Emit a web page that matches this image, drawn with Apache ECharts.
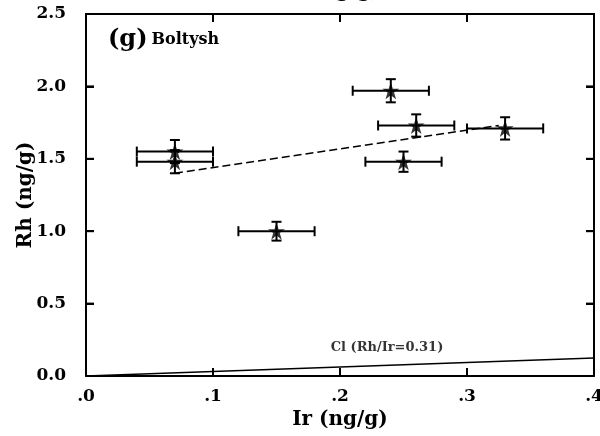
<!DOCTYPE html>
<html lang="en">
<head>
    <meta charset="utf-8">
    <title>Boltysh Rh vs Ir</title>
    <script src="https://cdn.jsdelivr.net/npm/echarts@6/dist/echarts.min.js"></script>
</head>
<body style="margin: 0">
<div id="container" style="height: 436px; width: 600px"></div>
<script type="text/javascript">
    // sample values
    var irVals = [0.07, 0.07, 0.15, 0.24, 0.26, 0.25, 0.33];
    var rhVals = [1.55, 1.48, 1.00, 1.97, 1.73, 1.48, 1.71];
    var irErr = [0.03, 0.03, 0.03, 0.03, 0.03, 0.03, 0.03];
    var rhErr = [0.08, 0.08, 0.065, 0.08, 0.077, 0.07, 0.077];
    // mixing line (dashed) and chondrite line
    var mixX = [0.07, 0.325];
    var mixY = [1.40, 1.73];
    var clX = [0, 0.4];
    var clY = [0, 0.124];
    // axis ranges and inner tick positions
    var xMax = 0.4, yMax = 2.5;
    var xTicks = [0.1, 0.2, 0.3];
    var yTicks = [0.5, 1.0, 1.5, 2.0];

    var serif = '"DejaVu Serif", serif';
    var dom = document.getElementById("container");
    var myChart = echarts.init(dom);

    var pts = [];
    for (var i = 0; i < irVals.length; i++) {
        pts.push([irVals[i], rhVals[i], irErr[i], rhErr[i]]);
    }
    var mixData = mixX.map(function (x, i) { return [x, mixY[i]]; });
    var clData = clX.map(function (x, i) { return [x, clY[i]]; });

    var star = 'path://M50,0 L62,36 L100,36 L69,58 L81,95 L50,72 L19,95 L31,58 L0,36 L38,36 Z';

    function seg(x1, y1, x2, y2, w) {
        return {type: 'line', shape: {x1: x1, y1: y1, x2: x2, y2: y2}, style: {stroke: '#000', lineWidth: w}};
    }

    function errBars(params, api) {
        var x = api.value(0), y = api.value(1), ex = api.value(2), ey = api.value(3);
        var l = api.coord([x - ex, y]), r = api.coord([x + ex, y]);
        var t = api.coord([x, y + ey]), b = api.coord([x, y - ey]);
        return {
            type: 'group',
            children: [
                seg(l[0], l[1], r[0], r[1], 2),
                seg(l[0], l[1] - 5, l[0], l[1] + 5, 2),
                seg(r[0], r[1] - 5, r[0], r[1] + 5, 2),
                seg(t[0], t[1], b[0], b[1], 2),
                seg(t[0] - 5, t[1], t[0] + 5, t[1], 2),
                seg(b[0] - 5, b[1], b[0] + 5, b[1], 2)
            ]
        };
    }

    function mkAxis(pos, max, step, extra) {
        var a = {
            type: 'value', min: 0, max: max, interval: step, position: pos,
            splitLine: {show: false},
            axisLine: {show: true, onZero: false, lineStyle: {color: '#000', width: 2}},
            axisTick: {show: true, inside: true, length: 8, lineStyle: {color: '#000', width: 2}},
            axisLabel: {show: false}
        };
        for (var k in extra) a[k] = extra[k];
        return a;
    }
    var nameStyle = {fontFamily: serif, fontWeight: 'bold', fontSize: 20, color: '#000'};

    var option = {
        animation: false,
        grid: {left: 86, right: 6, top: 14, bottom: 60, outerBoundsMode: 'none'},
        xAxis: [
            mkAxis('bottom', xMax, 0.1, {
                name: 'Ir (ng/g)', nameLocation: 'middle', nameGap: 34, nameTextStyle: nameStyle,
                axisLabel: {
                    show: true, margin: 12, fontFamily: serif, fontWeight: 'bold', fontSize: 17, color: '#000',
                    formatter: function (v) { return v.toFixed(1).replace(/^0/, ''); }
                }
            }),
            mkAxis('top', xMax, 0.1, {})
        ],
        yAxis: [
            mkAxis('left', yMax, 0.5, {
                name: 'Rh (ng/g)', nameLocation: 'middle', nameGap: 50, nameMoveOverlap: false,
                nameTextStyle: nameStyle,
                axisLabel: {
                    show: true, margin: 20, fontFamily: serif, fontWeight: 'bold', fontSize: 17, color: '#000',
                    formatter: function (v) { return v.toFixed(1); }
                }
            }),
            mkAxis('right', yMax, 0.5, {})
        ],
        series: [
            {
                type: 'line', data: clData, symbol: 'none',
                lineStyle: {color: '#000', width: 1.5}
            },
            {
                type: 'line', data: mixData, symbol: 'none',
                lineStyle: {color: '#000', width: 1.5, type: [8, 4]}
            },
            {
                type: 'custom', data: pts, renderItem: errBars,
                encode: {x: 0, y: 1}
            },
            {
                type: 'scatter', data: pts.map(function (p) { return [p[0], p[1]]; }),
                symbol: star, symbolSize: 17, itemStyle: {color: '#000'}
            },
            {
                type: 'scatter', data: [[0.237, 0.195]], symbolSize: 0,
                label: {
                    show: true, position: 'inside', formatter: 'Cl (Rh/Ir=0.31)',
                    fontFamily: serif, fontWeight: 'bold', fontSize: 13, color: '#000'
                }
            }
        ]
    };
    myChart.setOption(option);

    // texts plus inward frame ticks, placed through the chart's own scales
    var g = [
        {
            type: 'text', left: 108, top: 28,
            style: {
                text: '{a|(g)}{b|Boltysh}',
                rich: {
                    a: {fontFamily: serif, fontWeight: 'bold', fontSize: 24, fill: '#000', padding: [0, 4, 0, 0]},
                    b: {fontFamily: serif, fontWeight: 'bold', fontSize: 16, fill: '#000'}
                }
            }
        },
        {
            type: 'text', left: 285, top: -18,
            style: {text: 'Ir (ng/g)', fontFamily: serif, fontWeight: 'bold', fontSize: 20, fill: '#000'}
        }
    ];
    var len = 8;
    xTicks.forEach(function (x) {
        var b = myChart.convertToPixel({gridIndex: 0}, [x, 0]);
        var t = myChart.convertToPixel({gridIndex: 0}, [x, yMax]);
        g.push({type: 'line', z: 100, shape: {x1: b[0], y1: b[1], x2: b[0], y2: b[1] - len}, style: {stroke: '#000', lineWidth: 2}});
        g.push({type: 'line', z: 100, shape: {x1: t[0], y1: t[1], x2: t[0], y2: t[1] + len}, style: {stroke: '#000', lineWidth: 2}});
    });
    yTicks.forEach(function (y) {
        var l = myChart.convertToPixel({gridIndex: 0}, [0, y]);
        var r = myChart.convertToPixel({gridIndex: 0}, [xMax, y]);
        g.push({type: 'line', z: 100, shape: {x1: l[0], y1: l[1], x2: l[0] + len, y2: l[1]}, style: {stroke: '#000', lineWidth: 2}});
        g.push({type: 'line', z: 100, shape: {x1: r[0], y1: r[1], x2: r[0] - len, y2: r[1]}, style: {stroke: '#000', lineWidth: 2}});
    });
    myChart.setOption({graphic: g});
</script>
</body>
</html>
